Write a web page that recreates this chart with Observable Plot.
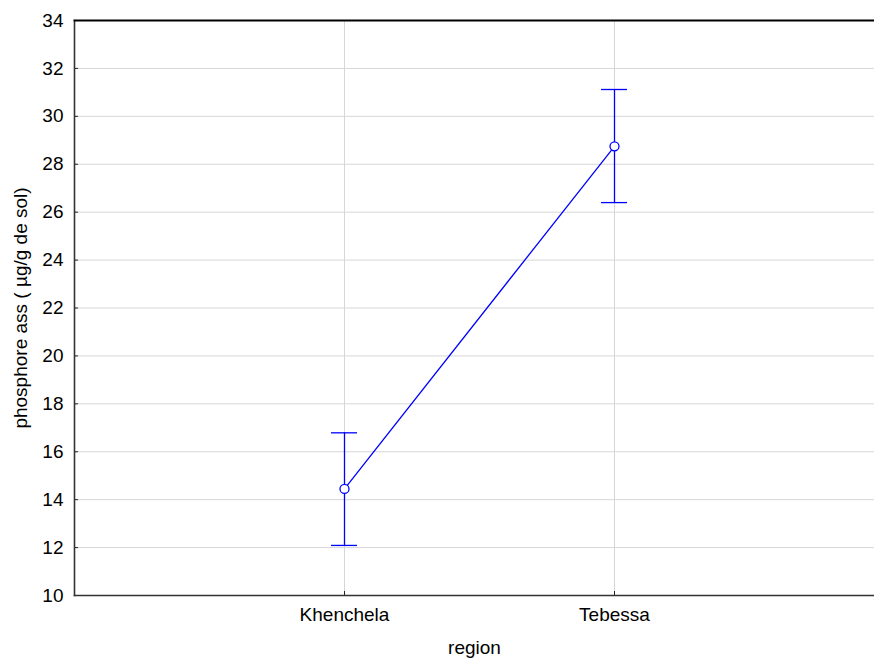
<!DOCTYPE html>
<html><head><meta charset="utf-8">
<script src="https://cdn.jsdelivr.net/npm/d3@7"></script>
<script src="https://cdn.jsdelivr.net/npm/@observablehq/plot@0.6"></script>
<style>body{margin:0;background:#fff;overflow:hidden}</style>
</head><body><div id="chart"></div>
<script>
const regions = ["Khenchela", "Tebessa"];
const means = [14.45, 28.75];
const lower = [12.09, 26.40];
const upper = [16.79, 31.12];
const yTicks = [10, 12, 14, 16, 18, 20, 22, 24, 26, 28, 30, 32, 34];
const yLabel = "phosphore ass ( µg/g de sol)";
const xLabel = "region";

const data = regions.map((r, i) => ({region: r, mean: means[i], lo: lower[i], hi: upper[i]}));
const blue = "#0000ff";
const grid = "#d6d6d6";
const capShare = 26 / 270;

const chart = Plot.plot({
  width: 874, height: 659,
  marginLeft: 74, marginRight: 0, marginTop: 20, marginBottom: 64,
  style: {fontFamily: "Arial, 'Liberation Sans', sans-serif", fontSize: "19px", color: "#000", background: "#fff"},
  x: {type: "band", domain: regions, range: [74, 884], paddingInner: 1 - capShare, paddingOuter: (2 - capShare) / 2},
  y: {domain: [10, 34]},
  marks: [
    Plot.gridY(yTicks, {stroke: grid, strokeOpacity: 1}),
    Plot.gridX(regions, {stroke: grid, strokeOpacity: 1}),
    Plot.gridY(yTicks, {insetRight: 796, stroke: "#222", strokeOpacity: 1}),
    Plot.gridX(regions, {insetTop: 571, stroke: "#222", strokeOpacity: 1}),
    Plot.frame({anchor: "left", stroke: "#333", strokeWidth: 1.6}),
    Plot.frame({anchor: "top", stroke: "#000", strokeWidth: 1.8}),
    Plot.frame({anchor: "bottom", stroke: "#333", strokeWidth: 1.6}),
    Plot.axisY(yTicks, {tickSize: 0, tickPadding: 11, label: yLabel, labelAnchor: "center", labelOffset: 61, labelArrow: "none"}),
    Plot.axisX(regions, {tickSize: 0, tickPadding: 12, label: xLabel, labelAnchor: "center", labelOffset: 58, labelArrow: "none"}),
    Plot.ruleX(data, {x: "region", y1: "lo", y2: "hi", stroke: blue, strokeWidth: 1.3}),
    Plot.tickY(data, {x: "region", y: "hi", stroke: blue, strokeWidth: 1.3}),
    Plot.tickY(data, {x: "region", y: "lo", stroke: blue, strokeWidth: 1.3}),
    Plot.line(data, {x: "region", y: "mean", stroke: blue, strokeWidth: 1.3}),
    Plot.dot(data, {x: "region", y: "mean", r: 4.5, stroke: blue, fill: "white", strokeWidth: 1.3})
  ]
});
document.getElementById("chart").appendChild(chart);
</script>
</body></html>
